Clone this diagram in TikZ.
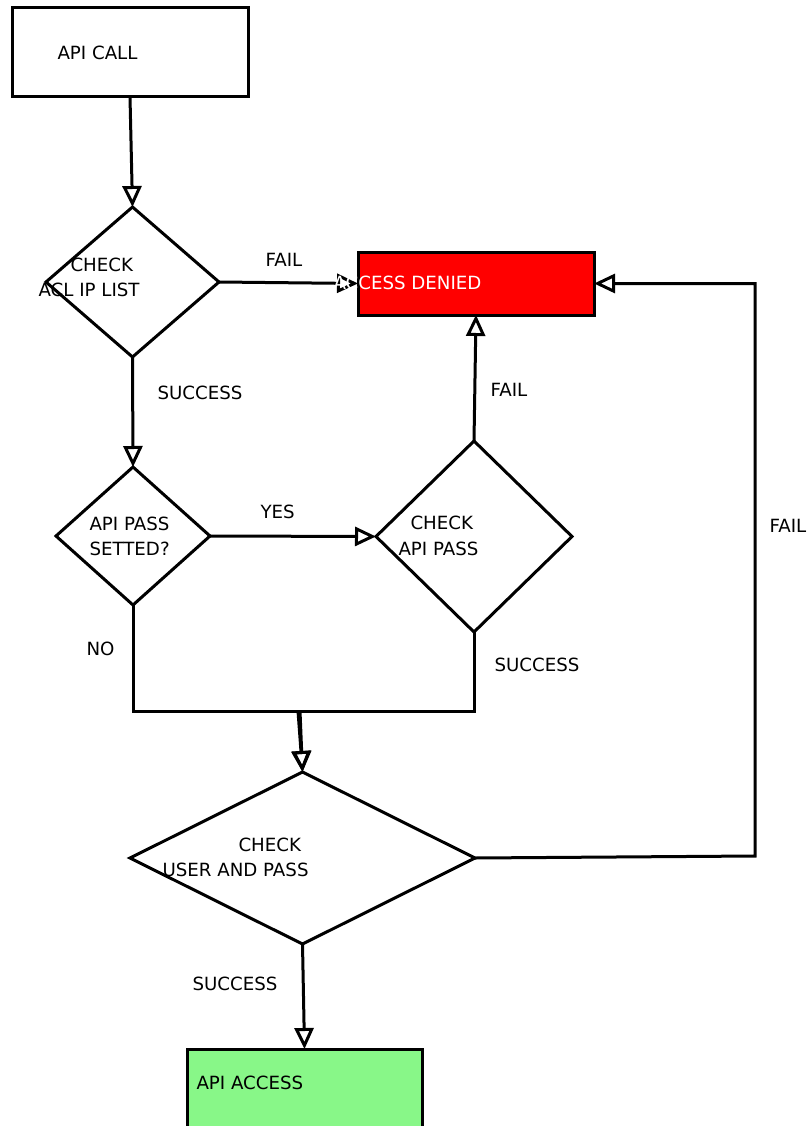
\documentclass[tikz,border=0pt]{standalone}
\usepackage{fontspec}
\setmainfont{DejaVu Sans}
\usetikzlibrary{shapes.geometric, arrows.meta}
\definecolor{deniedred}{HTML}{FF0000}
\definecolor{accessgreen}{HTML}{88F788}
\begin{document}
\begin{tikzpicture}[x=1pt, y=-1pt, line width=3pt,
  box/.style={draw, rectangle, inner sep=0, outer sep=0},
  decision/.style={draw, diamond, aspect=1, inner sep=0, outer sep=0},
  lbl/.style={anchor=west, inner sep=0, font=\fontsize{18.2}{22}\selectfont},
  flow/.style={-{Triangle[open, length=21pt, width=19pt]}}]
  \useasboundingbox (0, 0) rectangle (808, 1126);
  \clip (0, 0) rectangle (808, 1126);
  \node [box, minimum width=236, minimum height=89] (call) at (130, 52.5) {};
  \node [box, fill=deniedred, minimum width=236, minimum height=63] (denied) at (476, 283.5) {};
  \node [box, fill=accessgreen, minimum width=235, minimum height=100] (access) at (304.5, 1099) {};
  \node [decision, minimum width=173, minimum height=150] (acl) at (132.5, 282) {};
  \node [decision, minimum width=154, minimum height=138] (setted) at (133, 536) {};
  \node [decision, minimum width=196, minimum height=191] (apipass) at (474, 536.5) {};
  \node [decision, minimum width=345, minimum height=172] (userpass) at (302.5, 858) {};
  \coordinate (merge) at (300, 711);
  \coordinate (loopc) at (755, 856);
  \draw [flow] (call.south) -- (acl.north);
  \draw [flow] (acl.east) -- (denied.west);
  \draw [flow] (acl.south) -- (setted.north);
  \draw [flow] (setted.east) -- (apipass.west);
  \draw [flow] (apipass.north) -- (denied.south);
  \draw (setted.south) |- (merge);
  \draw (apipass.south) |- (merge);
  \draw [flow] (merge) -- (userpass.north);
  \draw [flow] ([xshift=-2]merge) -- (userpass.north);
  \draw [flow] (userpass.east) -- (loopc) |- (denied.east);
  \draw [flow] (userpass.south) -- (access.north);
  \node [lbl] (calltxt) at (56, 53) {API CALL};
  \node [lbl] (acltxta) at (69, 265) {CHECK};
  \node [lbl] (acltxtb) at (37, 290) {ACL IP LIST};
  \node [lbl, text=white] (deniedtxt) at (332, 283) {ACCESS DENIED};
  \node [lbl] (settedtxta) at (88, 524) {API PASS};
  \node [lbl] (settedtxtb) at (88, 549) {SETTED?};
  \node [lbl] (apipasstxta) at (409, 523) {CHECK};
  \node [lbl] (apipasstxtb) at (397, 549) {API PASS};
  \node [lbl] (userpasstxta) at (237, 845) {CHECK};
  \node [lbl] (userpasstxtb) at (161, 870) {USER AND PASS};
  \node [lbl] (accesstxt) at (195, 1083) {API ACCESS};
  \node [lbl] (failacl) at (264, 260) {FAIL};
  \node [lbl] (succacl) at (156, 393) {SUCCESS};
  \node [lbl] (yes) at (259, 512) {YES};
  \node [lbl] (no) at (85, 649) {NO};
  \node [lbl] (failapi) at (489, 390) {FAIL};
  \node [lbl] (succapi) at (493, 665) {SUCCESS};
  \node [lbl] (failuser) at (768, 526) {FAIL};
  \node [lbl] (succuser) at (191, 984) {SUCCESS};
\end{tikzpicture}
\end{document}
